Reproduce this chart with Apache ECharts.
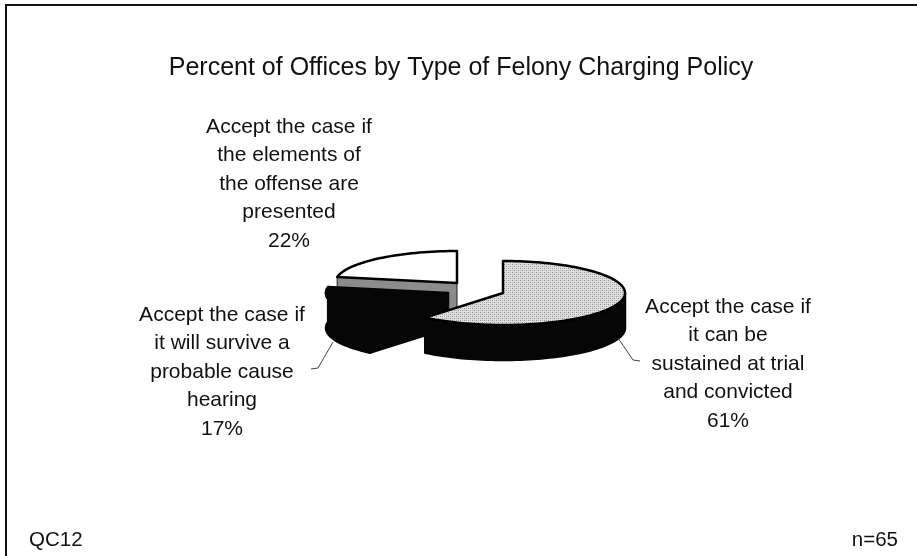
<!DOCTYPE html>
<html><head><meta charset="utf-8">
<style>html,body{margin:0;padding:0;background:#fff}#c{width:917px;height:556px}</style>
<script src="https://cdn.jsdelivr.net/npm/echarts@6/dist/echarts.min.js"></script>
</head><body><div id="c"></div>
<script>
var categories = ['Accept the case if\nit can be\nsustained at trial\nand convicted', 'Accept the case if\nit will survive a\nprobable cause\nhearing', 'Accept the case if\nthe elements of\nthe offense are\npresented'];
var values = [61, 17, 22];
var titleText = 'Percent of Offices by Type of Felony Charging Policy';
var noteLeft = 'QC12';
var noteRight = 'n=65';

var chart = echarts.init(document.getElementById('c'), null, {renderer: 'canvas'});
var RX = 122, RY = 32, DEPTH = 35;
var centers = [[503, 293], [448, 293], [457, 283]];
var labelPos = [[728, 364], [222, 372], [289, 184]];

var pat = document.createElement('canvas');
pat.width = 4; pat.height = 4;
var pc = pat.getContext('2d');
pc.fillStyle = '#e0e0e0'; pc.fillRect(0, 0, 4, 4);
pc.fillStyle = '#8f8f8f'; pc.fillRect(0, 0, 1, 1); pc.fillRect(2, 2, 1, 1);
pc.fillStyle = '#b4b4b4'; pc.fillRect(2, 0, 1, 1); pc.fillRect(0, 2, 1, 1);

function pt(c, deg, dy) {
  var a = deg * Math.PI / 180;
  return [c[0] + RX * Math.sin(a), c[1] - RY * Math.cos(a) + (dy || 0)];
}
function arc(c, a0, a1, dy) {
  var out = [], n = Math.max(2, Math.ceil(Math.abs(a1 - a0) / 2));
  for (var i = 0; i <= n; i++) out.push(pt(c, a0 + (a1 - a0) * i / n, dy));
  return out;
}
function poly(points, fill, stroke, lw) {
  return {type: 'polygon', shape: {points: points}, style: {fill: fill, stroke: stroke || '#000', lineWidth: lw === undefined ? 2.5 : lw, lineJoin: 'round'}};
}
function line(points, lw) {
  return {type: 'polyline', shape: {points: points}, style: {fill: null, stroke: '#444', lineWidth: lw || 1}};
}
function text(x, y, s, size, align) {
  return {type: 'text', x: x, y: y, style: {text: s, font: size + 'px "Liberation Sans", Arial, sans-serif', fill: '#111', align: align || 'center', verticalAlign: 'middle', lineHeight: 28.5}};
}

function renderItem(params, api) {
  if (params.dataIndex !== 0) return {type: 'group', children: []};
  var s0 = values[0] * 3.6, s1 = values[1] * 3.6;
  var mainEnd = s0, blackEnd = s0 + s1;
  var kids = [];
  // 22% slice (white top, grey cut wall)
  var w = centers[2];
  var wTop = arc(w, blackEnd, 360);
  kids.push(poly([pt(w, blackEnd), w, [w[0], w[1] + DEPTH - 8], pt(w, blackEnd, DEPTH - 8)], '#8c8c8c', '#222', 1));
  kids.push(poly(wTop.concat([w]), '#ffffff'));
  // 17% slice (all dark, top and walls the same tone)
  var b = centers[1];
  var dark = '#060606';
  kids.push(poly(arc(b, mainEnd, blackEnd).concat([b]), dark, dark));
  kids.push(poly(arc(b, mainEnd, blackEnd, DEPTH).concat(arc(b, blackEnd, mainEnd)), dark, dark));
  kids.push(poly([pt(b, mainEnd), b, [b[0], b[1] + DEPTH], pt(b, mainEnd, DEPTH)], dark, dark));
  // 61% slice
  var m = centers[0];
  kids.push(poly(arc(m, 90, mainEnd).concat(arc(m, mainEnd, 90, DEPTH)), dark, dark));
  kids.push(poly(arc(m, 0, mainEnd).concat([m]), {image: pat, repeat: 'repeat'}));
  // leader lines
  kids.push(line([[618, 338], [633, 360], [640, 361]]));
  kids.push(line([[333, 342], [318, 368], [311, 369]]));
  // labels
  for (var i = 0; i < categories.length; i++) {
    kids.push(text(labelPos[i][0], labelPos[i][1], categories[i] + '\n' + values[i] + '%', 21));
  }
  // frame and footer notes
  kids.push(line([[6, 556], [6, 5], [917, 5]], 2));
  kids[kids.length - 1].style.stroke = '#111';
  kids.push(text(29, 540, noteLeft, 20.5, 'left'));
  kids.push(text(898, 540, noteRight, 20.5, 'right'));
  return {type: 'group', children: kids};
}

chart.setOption({
  animation: false,
  backgroundColor: '#ffffff',
  title: {text: titleText, left: 456, top: 51, textAlign: 'center', textStyle: {fontFamily: '"Liberation Sans", Arial, sans-serif', fontWeight: 'normal', fontSize: 25, color: '#111'}},
  series: [{type: 'custom', coordinateSystem: 'none', renderItem: renderItem, silent: true,
    data: categories.map(function (c, i) { return {name: c, value: values[i]}; })}]
});
</script></body></html>
